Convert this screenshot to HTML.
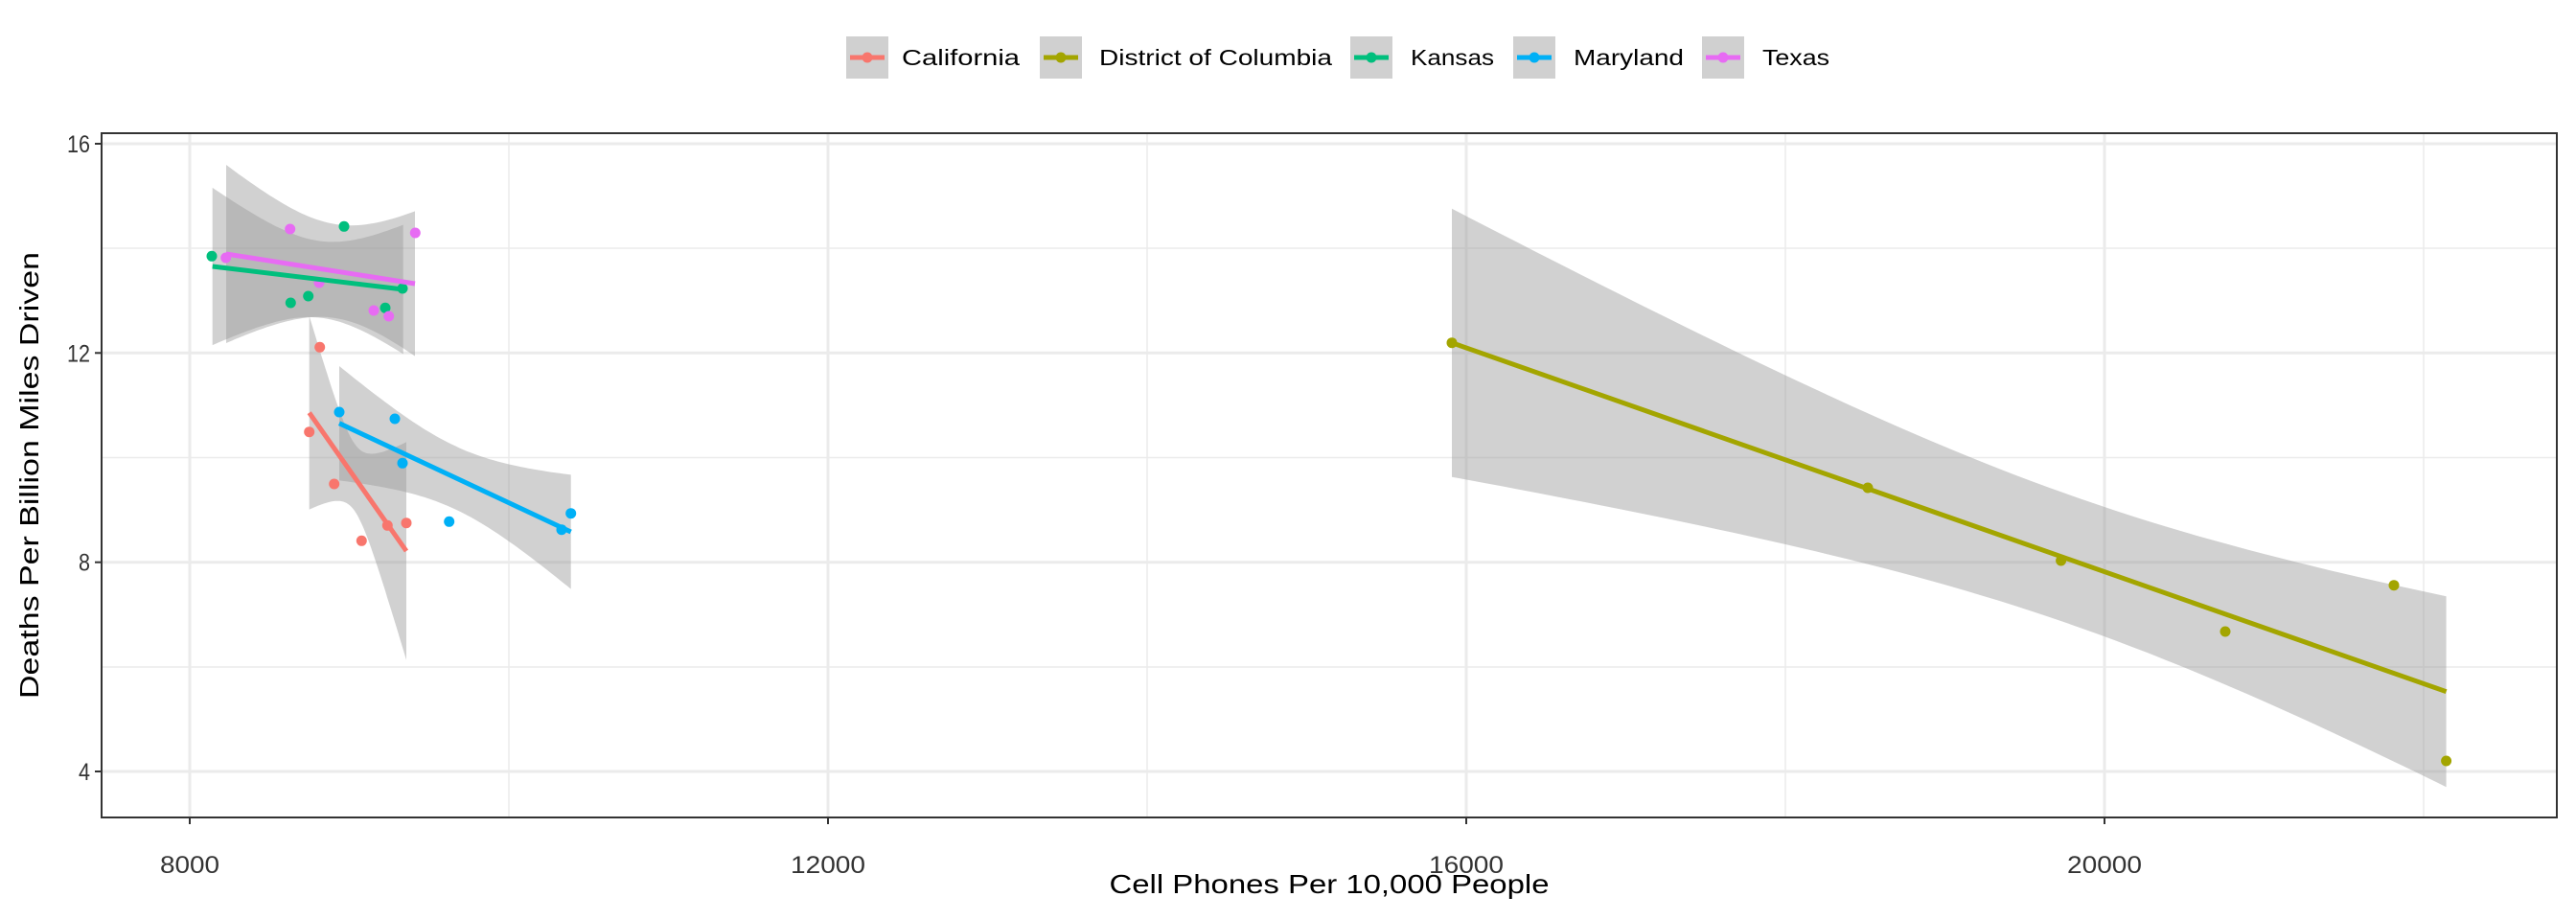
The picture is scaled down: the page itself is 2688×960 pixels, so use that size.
<!DOCTYPE html>
<html><head><meta charset="utf-8"><style>
html,body{margin:0;padding:0;background:#fff;}
svg{display:block;}
text{font-family:"Liberation Sans",sans-serif;}
</style></head><body>
<svg id="s" width="2688" height="960" xmlns="http://www.w3.org/2000/svg">
<rect width="2688" height="960" fill="#fff"/>
<g id="grid"></g>
<g id="rib"></g>
<g id="pts"></g>
<g id="lines"></g>
<rect x="106" y="139" width="2562" height="714" fill="none" stroke="#333" stroke-width="2"/>
<g id="axes" fill="#333" font-size="25"></g>
<text x="1387" y="932" font-size="28" text-anchor="middle" textLength="459" lengthAdjust="spacingAndGlyphs" fill="#000">Cell Phones Per 10,000 People</text>
<text transform="translate(40,496) rotate(-90)" font-size="28" text-anchor="middle" textLength="466" lengthAdjust="spacingAndGlyphs" fill="#000">Deaths Per Billion Miles Driven</text>
<g id="leg" font-size="23" fill="#000"></g>
</svg>
<script>
var NS="http://www.w3.org/2000/svg";
function el(p,t,a,txt){var e=document.createElementNS(NS,t);for(var k in a)e.setAttribute(k,a[k]);if(txt)e.textContent=txt;document.getElementById(p).appendChild(e);return e;}
var L=106,R=2668,T=139,B=853;
[259,477.5,696].forEach(function(y){el('grid','line',{x1:L,x2:R,y1:y,y2:y,stroke:'#ebebeb','stroke-width':1.5});});
[531,1197,1863,2529].forEach(function(x){el('grid','line',{x1:x,x2:x,y1:T,y2:B,stroke:'#ebebeb','stroke-width':1.5});});
[150,368.3,586.7,805].forEach(function(y){el('grid','line',{x1:L,x2:R,y1:y,y2:y,stroke:'#ebebeb','stroke-width':3});});
[198,864,1530,2196].forEach(function(x){el('grid','line',{x1:x,x2:x,y1:T,y2:B,stroke:'#ebebeb','stroke-width':3});});
var yt=[[150,'16',24],[368.3,'12',24],[586.7,'8',12],[805,'4',12]];
yt.forEach(function(t){el('axes','line',{x1:99,x2:106,y1:t[0],y2:t[0],stroke:'#333','stroke-width':2});el('axes','text',{x:94,y:t[0]+9,'text-anchor':'end',textLength:t[2],lengthAdjust:'spacingAndGlyphs'},t[1]);});
var xt=[[198,'8000',62],[864,'12000',78],[1530,'16000',78],[2196,'20000',78]];
xt.forEach(function(t){el('axes','line',{x1:t[0],x2:t[0],y1:853,y2:860,stroke:'#333','stroke-width':2});el('axes','text',{x:t[0],y:911,'text-anchor':'middle',textLength:t[2],lengthAdjust:'spacingAndGlyphs'},t[1]);});
var G=[
 {c:'#00BF7D',x0:221.7,x1:420.7,y0:278,y1:302,xm:335,a:1600,b:0.401,
  p:[[221,267.3],[359,236.3],[303.3,316],[321.7,309],[402,321.3],[420,301]]},
 {c:'#E76BF3',x0:236,x1:433,y0:265,y1:296,xm:350,a:2401,b:0.481,
  p:[[235.7,269],[302.7,239],[433.3,243],[333,295],[390,324],[405.7,330]]},
 {c:'#F8766D',x0:322.7,x1:424,y0:430.7,y1:575,xm:370,a:1225,b:4.01,
  p:[[333.7,362.3],[322.7,450.7],[348.7,505],[377.3,564.3],[404.3,548.3],[424,545.7]]},
 {c:'#00B0F6',x0:354,x1:595.7,y0:441.7,y1:555,xm:475,a:1089,b:0.169,
  p:[[354,430],[412,437],[420,483.3],[468.7,544.3],[586,552.7],[595.7,535.7]]},
 {c:'#A3A500',x0:1515,x1:2552.6,y0:357.7,y1:721.7,xm:2164.7,a:4530,b:0.03567,
  p:[[1515,357.7],[1949,509],[2150.6,585],[2322,659],[2498,610.7],[2552.6,794]]}
];
G.forEach(function(g){
  g.p.forEach(function(q){el('pts','circle',{cx:q[0],cy:q[1],r:5.5,fill:g.c});});
  var up=[],dn=[],n=60;
  for(var i=0;i<=n;i++){var x=g.x0+(g.x1-g.x0)*i/n;var y=g.y0+(g.y1-g.y0)*i/n;var h=Math.sqrt(g.a+g.b*(x-g.xm)*(x-g.xm));up.push(x.toFixed(1)+','+(y-h).toFixed(1));dn.unshift(x.toFixed(1)+','+(y+h).toFixed(1));}
  el('rib','polygon',{points:up.concat(dn).join(' '),fill:'#999999','fill-opacity':0.45});
  el('lines','line',{x1:g.x0,y1:g.y0,x2:g.x1,y2:g.y1,stroke:g.c,'stroke-width':5});
});
var LG=[[883,941,123,'#F8766D','California'],[1085,1147,243,'#A3A500','District of Columbia'],[1409,1472,87,'#00BF7D','Kansas'],[1579,1642,115,'#00B0F6','Maryland'],[1776,1839,70,'#E76BF3','Texas']];
LG.forEach(function(l){
  el('leg','rect',{x:l[0],y:38,width:44,height:44,fill:'#d0d0d0'});
  el('leg','line',{x1:l[0]+4,x2:l[0]+40,y1:60,y2:60,stroke:l[3],'stroke-width':5});
  el('leg','circle',{cx:l[0]+22,cy:60,r:5.5,fill:l[3]});
  el('leg','text',{x:l[1],y:68,textLength:l[2],lengthAdjust:'spacingAndGlyphs'},l[4]);
});
</script>
</body></html>
